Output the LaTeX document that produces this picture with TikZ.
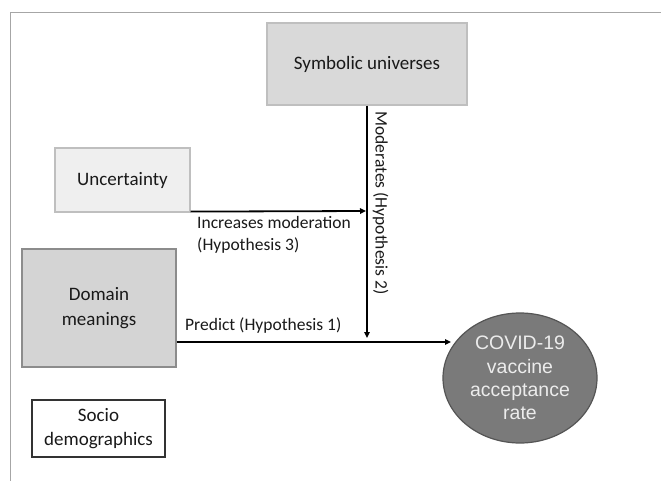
\documentclass[tikz,border=0pt]{standalone}
\usepackage{fontspec}
\setmainfont{Carlito}
\newfontfamily\arialf{Liberation Sans}
\usetikzlibrary{arrows.meta,shapes.geometric}
\definecolor{framegray}{HTML}{A6A6A6}
\definecolor{symfill}{HTML}{D9D9D9}
\definecolor{symdraw}{HTML}{BFBFBF}
\definecolor{uncfill}{HTML}{EFEFEF}
\definecolor{domfill}{HTML}{D4D4D4}
\definecolor{domdraw}{HTML}{8C8C8C}
\definecolor{covfill}{HTML}{7A7A7A}
\definecolor{covdraw}{HTML}{555555}
\definecolor{covtext}{HTML}{ECECEC}
\tikzset{
  boxnode/.style={rectangle, inner sep=0pt, align=center, line width=1.2pt,
    font=\fontsize{19}{24.5}\selectfont, text=black!90},
  lbl/.style={inner sep=0pt, font=\fontsize{17.5}{22}\selectfont, text=black!90},
  arr/.style={line width=1.8pt, -{Triangle[length=6pt,width=5.5pt]}},
}
\begin{document}
\begin{tikzpicture}[x=1pt,y=-1pt]
\useasboundingbox (0,0) rectangle (661,481);
% frame
\draw[framegray, line width=1.4pt] (10.5,481) -- (10.5,12.5) -- (661,12.5);
% nodes
\node[boxnode, fill=symfill, draw=symdraw, minimum width=200pt, minimum height=82pt] (sym) at (367,64) {Symbolic universes};
\node[boxnode, fill=uncfill, draw=symdraw, minimum width=135pt, minimum height=64pt] (unc) at (122.5,180) {Uncertainty};
\node[boxnode, fill=domfill, draw=domdraw, minimum width=154pt, minimum height=118pt] (dom) at (99,308) {Domain\\meanings};
\node[boxnode, fill=white, draw=black!80, minimum width=133pt, minimum height=57pt] (soc) at (98.5,428.5) {Socio\\demographics};
\node[ellipse, fill=covfill, draw=covdraw, line width=1.2pt, minimum width=154pt, minimum height=130pt, inner sep=0pt, align=center, text=covtext, font=\arialf\fontsize{19.5}{23.3}\selectfont] (cov) at (520,378) {COVID-19\\vaccine\\acceptance\\rate};
% connector end points
\coordinate (m3) at (366,211);
\coordinate (m2) at (367,338);
\coordinate (p1) at (451,342);
% connectors
\draw[arr] ([yshift=1pt]unc.south east) -- (m3);
\draw[arr] (sym.south) -- (m2);
\draw[arr] (dom.east |- p1) -- (p1);
% labels
\node[lbl, anchor=west, align=left] (l3) at (197,235) {Increases moderation\\(Hypothesis 3)};
\node[lbl, anchor=west] (l1) at (185,326) {Predict (Hypothesis 1)};
\node[lbl, rotate=-90] (l2) at (380.5,203) {Moderates (Hypothesis 2)};
\end{tikzpicture}
\end{document}
